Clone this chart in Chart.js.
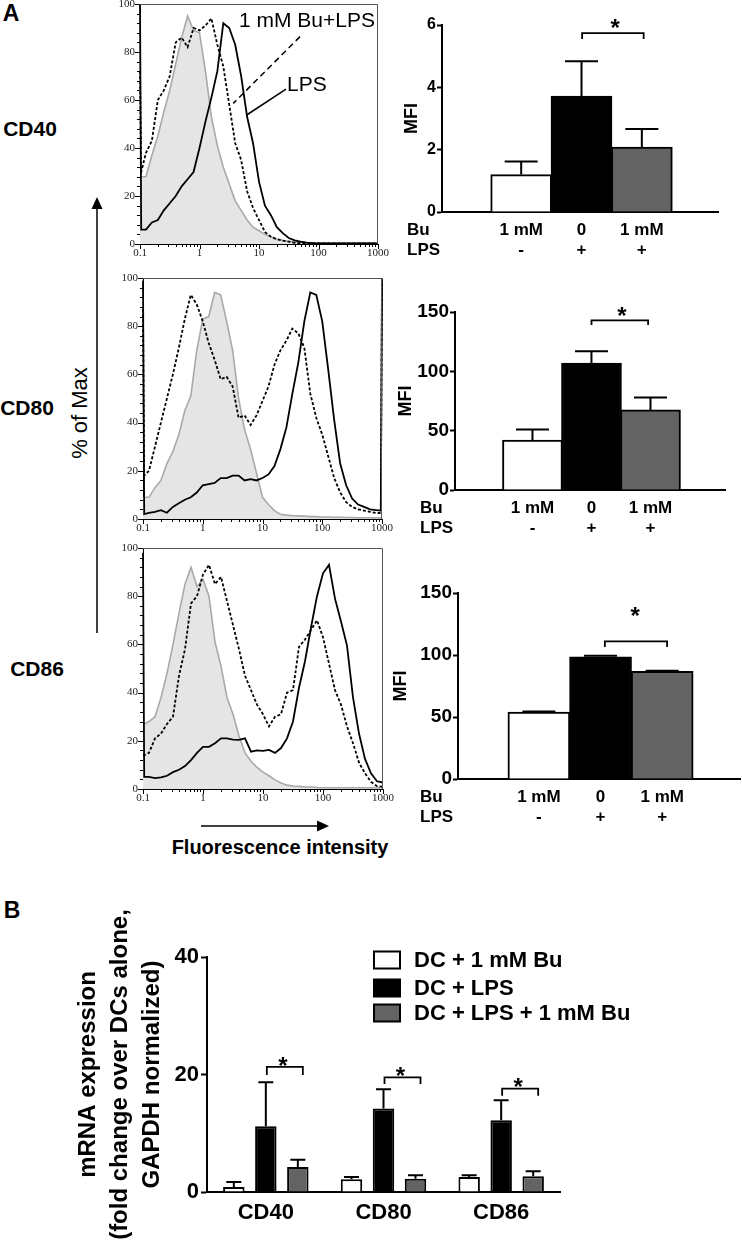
<!DOCTYPE html>
<html><head><meta charset="utf-8">
<script src="https://cdn.jsdelivr.net/npm/chart.js@4.4.1/dist/chart.umd.min.js"></script>
<style>
html,body{margin:0;padding:0;background:#fff;}
body{width:742px;height:1244px;position:relative;overflow:hidden;font-family:"Liberation Sans",Arial,sans-serif;color:#000;}
.c{position:absolute;}
.t{position:absolute;font-weight:bold;white-space:nowrap;line-height:1;transform:translate(-50%,-50%);}
</style></head><body>
<svg class="c" style="left:0;top:0" width="742" height="1244">
  <line x1="97" y1="633" x2="97" y2="207" stroke="#000" stroke-width="1.5"/>
  <polygon points="97,197 91.5,209 102.5,209" fill="#000"/>
  <line x1="201" y1="826" x2="318" y2="826" stroke="#000" stroke-width="1.5"/>
  <polygon points="329,826 317,820.5 317,831.5" fill="#000"/>
</svg>
<div class="t" style="left:11px;top:13px;font-size:23px;">A</div>
<div class="t" style="left:30px;top:128px;font-size:21px;">CD40</div>
<div class="t" style="left:27px;top:407px;font-size:21px;">CD80</div>
<div class="t" style="left:37px;top:668px;font-size:21px;">CD86</div>
<div class="t" style="left:80px;top:413px;font-size:22px;font-weight:normal;transform:translate(-50%,-50%) rotate(-90deg);">% of Max</div>
<div class="t" style="left:280px;top:847px;font-size:20px;">Fluorescence intensity</div>
<div class="t" style="left:12px;top:910px;font-size:23px;">B</div>

<canvas class="c" id="h1" width="292" height="262" style="left:100px;top:0px"></canvas>
<canvas class="c" id="h2" width="295" height="275" style="left:100px;top:262px"></canvas>
<canvas class="c" id="h3" width="300" height="270" style="left:100px;top:537px"></canvas>
<canvas class="c" id="m1" width="347" height="262" style="left:395px;top:0px"></canvas>
<canvas class="c" id="m2" width="347" height="278" style="left:395px;top:262px"></canvas>
<canvas class="c" id="m3" width="352" height="284" style="left:390px;top:545px"></canvas>
<canvas class="c" id="pb" width="682" height="344" style="left:60px;top:900px"></canvas>
<script>
// ---------------- DATA ----------------
// histogram bins: log10(fluorescence intensity)
const logFluor = [-1,-0.98,-0.9,-0.8,-0.7,-0.6,-0.5,-0.4,-0.3,-0.2,-0.1,0,0.1,0.2,0.3,0.4,0.5,0.6,0.7,0.8,0.9,1.0,1.1,1.2,1.3,1.4,1.5,1.6,1.7,1.8,1.9,2.0,2.1,2.2,2.3,2.4,2.5,2.6,2.7,2.8,2.9,2.98,3.0];
const histoTicks = [0.1, 1, 10, 100, 1000];
// % of Max — grey filled = 1 mM Bu, dashed = 1 mM Bu+LPS, solid = LPS
const cd40Bu    = [28,28,28,37,45,55,64,75,86,95,89,88,72,53,41,32,25,18,14,10,7,5.5,4,3,2,1.5,1,1,0.8,0.5,0.5,0.4,0.4,0.3,0.3,0.3,0.3,0.3,0.3,0.3,0.3,0.3,0.3];
const cd40BuLps = [72,30,38,43,60,64,70,84,86,82,90,89,91,94,83,74,58,42,35,22,15,10,5,3,2,1.4,1,0.5,0.3,0.2,0.2,0.2,0.2,0.2,0.2,0.2,0.2,0.2,0.2,0.2,0.2,0.2,0.2];
const cd40Lps   = [100,6,6,9,10,14,17,20,24,27,30,40,51,61,72,92,90,83,70,53,42,26,16,12,7,4.5,2.5,1.5,1,0.6,0.4,0.3,0.3,0.3,0.3,0.3,0.3,0.3,0.3,0.3,0.3,0.3,0.3];
const cd80Bu    = [9,9,9,13,16,23,28,35,45,51,70,83,84,94,93,82,70,50,37,29,19,9,6,3.5,2,1.6,1.4,1.3,1.2,1,1,0.8,0.8,0.7,0.7,0.6,0.6,0.5,0.5,0.5,0.5,0.5,0.5];
const cd80BuLps = [87,18,20,30,40,50,60,71,83,93,89,82,73,66,58,59,55,42,43,39,43,49,55,64,70,74,79,77,71,52,42,35,26,17,11,7,5,4,3.5,3,2.5,2.5,100];
const cd80Lps   = [99,2,2.5,3,3.7,2.6,5,6.5,8,9,11,14,14.5,15,17,17,18,18,16,16.5,16,17,18.5,22,29,38,52,65,82,94,93,82,62,41,23,14,8.5,6,5,4,3.7,3.5,99];
const cd86Bu    = [27,27,28,30,38,48,60,73,85,92,84,87,80,61,51,38,31,22,15,11.5,9,7,5.5,3.8,2.5,1.6,1.2,1.1,0.9,0.8,0.6,0.5,0.5,0.5,0.5,0.5,0.5,0.5,0.5,0.5,0.5,0.5,0.5];
const cd86BuLps = [14,14,15,21,23,27,30,47,58,77,80,89,93,85,88,78,68,58,47,41,35,31,26,30,31,40,41,59,62,66,70,63,52,41,35,26,19,11,6.5,3,1.2,1,1];
const cd86Lps   = [98,5,5,4.5,4.8,5.5,7,8,9.5,12,15,17.5,17.5,19,21,21,20.5,20.4,21,15.5,16,15.8,16.2,15,17,21,28,42,53,67,80,89.5,93,79,69.5,59.5,38,23,12.5,6.5,3.2,2.8,2.8];

// MFI bar charts
const mfiBu  = ['1 mM', '0', '1 mM'];
const mfiLps = ['-', '+', '+'];
const mfiCD40 = [1.2, 3.72, 2.08];  const mfiCD40Err = [0.42, 1.12, 0.58];
const mfiCD80 = [42, 107, 67.5];    const mfiCD80Err = [9, 10, 10.5];
const mfiCD86 = [54, 98.6, 86.8];   const mfiCD86Err = [0.5, 0.8, 0.5];

// Panel B: mRNA expression
const genes = ['CD40', 'CD80', 'CD86'];
const seriesNames = ['DC + 1 mM Bu', 'DC + LPS', 'DC + LPS + 1 mM Bu'];
const mrnaBu    = [0.85, 2.15, 2.55]; const mrnaBuErr    = [0.85, 0.4, 0.3];
const mrnaLps   = [11.2, 14.2, 12.2]; const mrnaLpsErr   = [7.5, 3.3, 3.4];
const mrnaLpsBu = [4.25, 2.27, 2.67]; const mrnaLpsBuErr = [1.25, 0.57, 0.85];

// ---------------- RENDERING ----------------
const SANS = '"Liberation Sans", Arial, sans-serif';
const SERIF = '"Liberation Serif", "Times New Roman", serif';
Chart.defaults.font.family = SANS;
Chart.defaults.color = '#000';

function pts(arr){ return logFluor.map((e,i)=>({x:Math.pow(10,e), y:arr[i]})); }

function histoDecor(notes){
  return {
    id:'histoDecor',
    afterDatasetsDraw(chart){
      const {ctx, chartArea:a, scales:{x,y}} = chart;
      ctx.save();
      ctx.strokeStyle='#555'; ctx.lineWidth=1;
      ctx.beginPath();
      ctx.moveTo(a.left, a.top+0.5); ctx.lineTo(a.right-0.5, a.top+0.5); ctx.lineTo(a.right-0.5, a.bottom);
      ctx.stroke();
      ctx.strokeStyle='#000'; ctx.beginPath();
      for (let d=-1; d<=3; d++){
        for (let k=1;k<=9;k++){
          if (d===3 && k>1) break;
          const px = Math.round(x.getPixelForValue(k*Math.pow(10,d)))+0.5;
          const len = k===1?5:3;
          ctx.moveTo(px,a.bottom); ctx.lineTo(px,a.bottom+len);
        }
      }
      for (let v=0; v<=100; v+=4){
        const py = Math.round(y.getPixelForValue(v))+0.5;
        const len = v%20===0?5:3;
        ctx.moveTo(a.left,py); ctx.lineTo(a.left-len,py);
      }
      ctx.stroke();
      if (notes){
        ctx.fillStyle='#000';
        ctx.font='21px '+SANS; ctx.textBaseline='middle';
        notes.labels.forEach(n=>{
          ctx.textAlign=n.align;
          ctx.fillText(n.t, x.getPixelForValue(Math.pow(10,n.lx)), y.getPixelForValue(n.v));
        });
        notes.pointers.forEach(p=>{
          ctx.lineWidth=1.5; ctx.setLineDash(p.dash?[6,4]:[]);
          ctx.beginPath();
          ctx.moveTo(x.getPixelForValue(Math.pow(10,p.a[0])), y.getPixelForValue(p.a[1]));
          ctx.lineTo(x.getPixelForValue(Math.pow(10,p.b[0])), y.getPixelForValue(p.b[1]));
          ctx.stroke();
        });
        ctx.setLineDash([]);
      }
      ctx.restore();
    }
  };
}

function makeHisto(id, L, gray, dashed, solid, notes){
  new Chart(document.getElementById(id), {
    type:'line',
    data:{datasets:[
      {label:'LPS', data:pts(solid), borderColor:'#000', borderWidth:1.8, fill:false, order:1, clip:6},
      {label:'1 mM Bu+LPS', data:pts(dashed), borderColor:'#000', borderWidth:1.8, borderDash:[3,2], fill:false, order:2, clip:6},
      {label:'1 mM Bu', data:pts(gray), borderColor:'#a9a9a9', backgroundColor:'#e5e5e5', borderWidth:1.6, fill:'origin', order:3, clip:6}
    ]},
    options:{
      responsive:false, animation:false, devicePixelRatio:1, events:[],
      layout:{padding:{top:L.pt, right:L.pr, left:0, bottom:0}},
      plugins:{legend:{display:false}, tooltip:{enabled:false}},
      elements:{point:{radius:0}, line:{tension:0}},
      scales:{
        x:{type:'logarithmic', min:0.1, max:1000,
          afterBuildTicks:s=>{ s.ticks = histoTicks.map(v=>({value:v})); },
          ticks:{autoSkip:false, maxRotation:0, padding:3, font:{family:SERIF, size:11}, color:'#222', callback:v=>String(v)},
          grid:{display:false, drawTicks:false}, border:{display:true, color:'#000', width:1},
          afterFit:s=>{ s.height=18; s.paddingLeft=0; s.paddingRight=0; }},
        y:{min:0, max:100,
          ticks:{stepSize:20, padding:5, font:{family:SERIF, size:11}, color:'#222'},
          grid:{display:false, drawTicks:false}, border:{display:true, color:'#000', width:1},
          afterFit:s=>{ s.width=L.yw; s.paddingTop=0; s.paddingBottom=0; }}
      }
    },
    plugins:[histoDecor(notes)]
  });
}

function drawErr(chart, cap, lw){
  const {ctx} = chart; const y = chart.scales.y;
  ctx.save(); ctx.strokeStyle='#000'; ctx.lineWidth=lw;
  chart.data.datasets.forEach((ds,di)=>{
    const meta = chart.getDatasetMeta(di);
    meta.data.forEach((bar,i)=>{
      const d = ds.data[i]; const v = (typeof d==='object') ? d.y : d;
      const top = y.getPixelForValue(v+ds.errors[i]), base = y.getPixelForValue(v);
      ctx.beginPath();
      ctx.moveTo(bar.x, base); ctx.lineTo(bar.x, top);
      ctx.moveTo(bar.x-cap/2, top); ctx.lineTo(bar.x+cap/2, top);
      ctx.stroke();
    });
  });
  ctx.restore();
}

function drawStar(ctx, cx, cy, size){
  ctx.save(); ctx.fillStyle='#000'; ctx.font='bold '+size+'px '+SANS;
  ctx.textAlign='center'; ctx.textBaseline='alphabetic';
  ctx.fillText('*', cx, cy + 0.575*size);
  ctx.restore();
}

function drawBracket(ctx, x1, x2, yb, yd){
  ctx.save(); ctx.strokeStyle='#000'; ctx.lineWidth=1.8;
  ctx.beginPath(); ctx.moveTo(x1,yd); ctx.lineTo(x1,yb); ctx.lineTo(x2,yb); ctx.lineTo(x2,yd); ctx.stroke();
  ctx.restore();
}

function mfiDecor(L){
  return {
    id:'mfiDecor',
    afterDatasetsDraw(chart){
      const {ctx, chartArea:a, scales:{x,y}} = chart;
      drawErr(chart, 33, 2);
      ctx.save();
      ctx.fillStyle='#000'; ctx.font='bold 17px '+SANS;
      ctx.textBaseline='middle'; ctx.textAlign='left';
      ctx.fillText('Bu', a.left+L.hdx, a.bottom+18);
      ctx.fillText('LPS', a.left+L.hdx, a.bottom+38);
      ctx.restore();
      drawBracket(ctx, x.getPixelForValue(L.br[0]), x.getPixelForValue(L.br[1]), y.getPixelForValue(L.br[2]), y.getPixelForValue(L.br[3]));
      drawStar(ctx, x.getPixelForValue(L.star[0]), y.getPixelForValue(L.star[1]), 24);
    }
  };
}

function makeMfi(id, vals, errs, L){
  new Chart(document.getElementById(id), {
    type:'bar',
    data:{datasets:[{data:vals.map((v,i)=>({x:i,y:v})), errors:errs,
      backgroundColor:['#ffffff','#000000','#636363'], borderColor:'#000', borderWidth:2, barThickness:L.bw}]},
    options:{
      responsive:false, animation:false, devicePixelRatio:1, events:[],
      layout:{padding:{top:L.pt, right:L.pr, left:0, bottom:0}},
      plugins:{legend:{display:false}, tooltip:{enabled:false}},
      scales:{
        x:{type:'linear', min:-0.55, max:2.5,
          afterBuildTicks:s=>{ s.ticks=[0,1,2].map(v=>({value:v})); },
          ticks:{autoSkip:false, maxRotation:0, padding:8, font:{size:17, weight:'bold', lineHeight:1.18},
                 callback:v=>[mfiBu[Math.round(v)], mfiLps[Math.round(v)]]},
          grid:{display:false, drawTicks:false}, border:{display:true, color:'#000', width:2},
          afterFit:s=>{ s.height=50; s.paddingLeft=0; s.paddingRight=0; }},
        y:{min:0, max:L.max,
          ticks:{stepSize:L.step, padding:1, font:{size:L.tf, weight:'bold'}},
          grid:{drawOnChartArea:false, drawTicks:true, tickLength:5, tickWidth:2, tickColor:'#000'},
          border:{display:true, color:'#000', width:2},
          title:{display:true, text:'MFI', font:{size:18, weight:'bold'}, padding:{top:L.tp, bottom:0}},
          afterFit:s=>{ s.width=L.yw; s.paddingTop=0; s.paddingBottom=0; }}
      }
    },
    plugins:[mfiDecor(L)]
  });
}

makeHisto('h1', {pt:4, pr:14, yw:40}, cd40Bu, cd40BuLps, cd40Lps, {
  labels:[{t:'1 mM Bu+LPS', lx:1.807, v:92.9, align:'center'}, {t:'LPS', lx:1.47, v:66.3, align:'left'}],
  pointers:[{a:[1.689,86.4], b:[0.568,58.6], dash:true}, {a:[1.454,64.5], b:[0.793,53.75], dash:false}]
});
makeHisto('h2', {pt:16, pr:13, yw:43}, cd80Bu, cd80BuLps, cd80Lps, null);
makeHisto('h3', {pt:11, pr:17, yw:43}, cd86Bu, cd86BuLps, cd86Lps, null);

makeMfi('m1', mfiCD40, mfiCD40Err, {pt:25, pr:24, yw:47, bw:61, max:6, step:2, tf:16, tp:6, hdx:-35,
  br:[1.01, 2.03, 5.74, 5.55], star:[1.556, 6.1]});
makeMfi('m2', mfiCD80, mfiCD80Err, {pt:50, pr:17, yw:60, bw:60, max:150, step:50, tf:19, tp:0, hdx:-35,
  br:[1.0, 1.96, 143, 139], star:[1.517, 151.7]});
makeMfi('m3', mfiCD86, mfiCD86Err, {pt:48, pr:2, yw:68, bw:62, max:150, step:50, tf:19, tp:0, hdx:-38,
  br:[1.07, 2.08, 111, 106.5], star:[1.56, 136.3]});

// panel B
const bBrackets = [[21.3, 19.9, 22.4], [19.5, 18.4, 20.7], [17.6, 16.4, 18.9]];
const panelBDecor = {
  id:'panelBDecor',
  afterDatasetsDraw(chart){
    const {ctx, chartArea:a, scales:{y}} = chart;
    drawErr(chart, 15, 2);
    const mB = chart.getDatasetMeta(1), mG = chart.getDatasetMeta(2);
    bBrackets.forEach((b,i)=>{
      const x1 = mB.data[i].x + 1, x2 = mG.data[i].x + 5;
      drawBracket(ctx, x1, x2, y.getPixelForValue(b[0]), y.getPixelForValue(b[1]));
      drawStar(ctx, (x1+x2)/2 - 2, y.getPixelForValue(b[2]), 24);
    });
    // legend
    const rows = [3, 31, 56];
    ctx.save();
    ctx.font='bold 22px '+SANS; ctx.textBaseline='middle'; ctx.textAlign='left';
    chart.data.datasets.forEach((ds,i)=>{
      const cy = a.top + rows[i];
      ctx.fillStyle = ds.backgroundColor;
      ctx.fillRect(a.left+167, cy-8.5, 26, 17);
      ctx.strokeStyle='#000'; ctx.lineWidth=2;
      ctx.strokeRect(a.left+167, cy-8.5, 26, 17);
      ctx.fillStyle='#000';
      ctx.fillText(ds.label, a.left+207, cy+1);
    });
    ctx.restore();
  }
};
const barStyle = {borderColor:'#000', borderWidth:2, categoryPercentage:0.816, barPercentage:0.67};
new Chart(document.getElementById('pb'), {
  type:'bar',
  data:{labels:genes, datasets:[
    Object.assign({label:seriesNames[0], data:mrnaBu, errors:mrnaBuErr, backgroundColor:'#ffffff'}, barStyle),
    Object.assign({label:seriesNames[1], data:mrnaLps, errors:mrnaLpsErr, backgroundColor:'#000000'}, barStyle),
    Object.assign({label:seriesNames[2], data:mrnaLpsBu, errors:mrnaLpsBuErr, backgroundColor:'#636363'}, barStyle)
  ]},
  options:{
    responsive:false, animation:false, devicePixelRatio:1, events:[],
    layout:{padding:{top:57, right:182, left:0, bottom:0}},
    plugins:{legend:{display:false}, tooltip:{enabled:false}},
    scales:{
      x:{ticks:{font:{size:22, weight:'bold'}, padding:8, maxRotation:0},
        grid:{display:false, drawTicks:false}, border:{display:true, color:'#000', width:2},
        afterFit:s=>{ s.height=52; s.paddingLeft=0; s.paddingRight=0; }},
      y:{min:0, max:40, ticks:{stepSize:20, padding:2, font:{size:22, weight:'bold'}},
        grid:{drawOnChartArea:false, drawTicks:true, tickLength:6, tickWidth:2, tickColor:'#000'},
        border:{display:true, color:'#000', width:2},
        title:{display:true, text:['mRNA expression','(fold change over DCs alone,','GAPDH normalized)'],
          font:{size:24, weight:'bold', lineHeight:1.333}, padding:{top:12, bottom:0}},
        afterFit:s=>{ s.width=147; s.paddingTop=0; s.paddingBottom=0; }}
    }
  },
  plugins:[panelBDecor]
});
</script>
</body></html>
